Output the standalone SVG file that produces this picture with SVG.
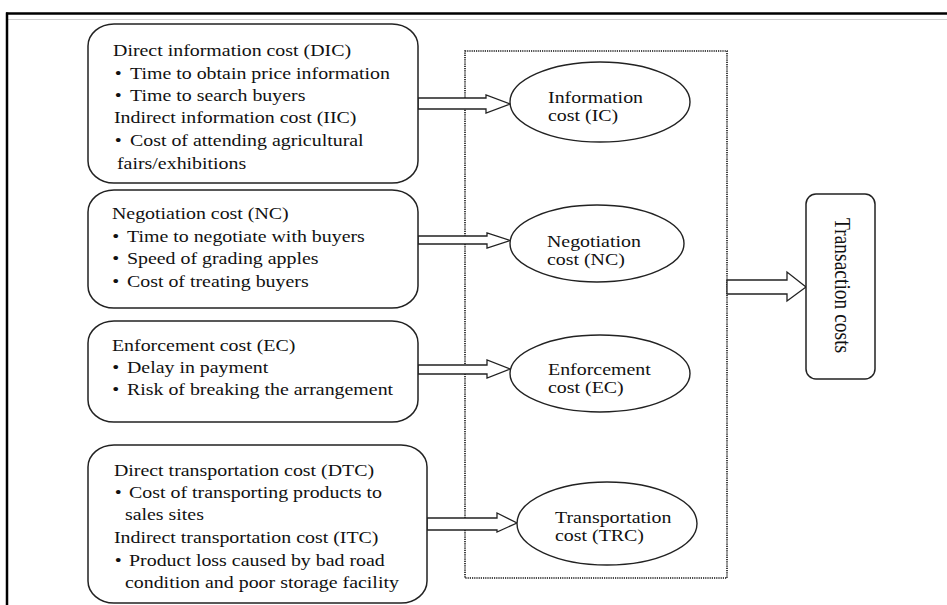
<svg xmlns="http://www.w3.org/2000/svg" width="947" height="605" viewBox="0 0 947 605">
<style>
.box{fill:#fff;stroke:#222;stroke-width:1.5}
.ell{fill:#fff;stroke:#222;stroke-width:1.4}
.arr{fill:#fff;stroke:#222;stroke-width:1.3;stroke-linejoin:miter}
.t{font-family:"Liberation Serif","Times New Roman",serif;font-size:17px;fill:#111}
</style>
<rect width="947" height="605" fill="#fff"/>
<g id="frame">
<line x1="6" y1="13.5" x2="947" y2="13.5" stroke="#000" stroke-width="2.5"/>
<line x1="8" y1="19.5" x2="947" y2="19.5" stroke="#d0d0d0" stroke-width="1.2"/>
<line x1="7" y1="12.5" x2="7" y2="605" stroke="#000" stroke-width="2.5"/>
</g>
<g id="group-box">
<rect x="465" y="51" width="262" height="527" fill="none" stroke="#111" stroke-width="1.6" stroke-dasharray="1.2 1"/>
</g>
<g id="connectors">
<polygon class="arr" points="418,98 486,98 486,95 510,104 486,113 486,109 418,109"/>
<polygon class="arr" points="418,236 487,236 487,233 510,240.5 487,248 487,244 418,244"/>
<polygon class="arr" points="418,365 487,365 487,360 510,369 487,378 487,374 418,374"/>
<polygon class="arr" points="427,518 497,518 497,513 517,523 497,532 497,530 427,530"/>
<polygon class="arr" points="727,280 787,280 787,272 806,287 787,301 787,294 727,294"/>
</g>
<g id="box-information">
<rect class="box" x="88" y="24" width="330" height="159" rx="26" ry="22"/>
<g transform="scale(1.17 1)" class="t">
<text x="96.6" y="56">Direct information cost (DIC)</text>
<text y="79"><tspan x="98">•</tspan><tspan x="111.1">Time to obtain price information</tspan></text>
<text y="101"><tspan x="98">•</tspan><tspan x="111.1">Time to search buyers</tspan></text>
<text x="97.4" y="123">Indirect information cost (IIC)</text>
<text y="146"><tspan x="98">•</tspan><tspan x="111.1">Cost of attending agricultural</tspan></text>
<text x="100" y="169">fairs/exhibitions</text>
</g>
</g>
<g id="box-negotiation">
<rect class="box" x="88" y="190" width="330" height="118" rx="26" ry="22"/>
<g transform="scale(1.17 1)" class="t">
<text x="95.7" y="219">Negotiation cost (NC)</text>
<text y="242"><tspan x="96">•</tspan><tspan x="108.5">Time to negotiate with buyers</tspan></text>
<text y="264"><tspan x="96">•</tspan><tspan x="108.5">Speed of grading apples</tspan></text>
<text y="287"><tspan x="96">•</tspan><tspan x="108.5">Cost of treating buyers</tspan></text>
</g>
</g>
<g id="box-enforcement">
<rect class="box" x="88" y="321" width="330" height="101" rx="26" ry="22"/>
<g transform="scale(1.17 1)" class="t">
<text x="95.7" y="351">Enforcement cost (EC)</text>
<text y="373"><tspan x="96">•</tspan><tspan x="108.5">Delay in payment</tspan></text>
<text y="395"><tspan x="96">•</tspan><tspan x="108.5">Risk of breaking the arrangement</tspan></text>
</g>
</g>
<g id="box-transportation">
<rect class="box" x="88" y="445" width="339" height="158" rx="26" ry="22"/>
<g transform="scale(1.17 1)" class="t">
<text x="97.4" y="476">Direct transportation cost (DTC)</text>
<text y="498"><tspan x="98">•</tspan><tspan x="110.3">Cost of transporting products to</tspan></text>
<text x="106.8" y="520">sales sites</text>
<text x="97.4" y="543">Indirect transportation cost (ITC)</text>
<text y="566"><tspan x="98">•</tspan><tspan x="110.3">Product loss caused by bad road</tspan></text>
<text x="106.8" y="588">condition and poor storage facility</text>
</g>
</g>
<g id="ic">
<ellipse class="ell" cx="600" cy="102" rx="90" ry="40"/>
<g transform="scale(1.17 1)" class="t">
<text x="468.4" y="103">Information</text>
<text x="468.4" y="121">cost (IC)</text>
</g>
</g>
<g id="nc">
<ellipse class="ell" cx="597" cy="243.5" rx="87" ry="38.5"/>
<g transform="scale(1.17 1)" class="t">
<text x="467.5" y="247">Negotiation</text>
<text x="467.5" y="265">cost (NC)</text>
</g>
</g>
<g id="ec">
<ellipse class="ell" cx="600" cy="373.5" rx="90" ry="38.5"/>
<g transform="scale(1.17 1)" class="t">
<text x="468.4" y="375">Enforcement</text>
<text x="468.4" y="393">cost (EC)</text>
</g>
</g>
<g id="trc">
<ellipse class="ell" cx="607" cy="523.5" rx="90" ry="41.5"/>
<g transform="scale(1.17 1)" class="t">
<text x="474.4" y="523">Transportation</text>
<text x="474.4" y="541">cost (TRC)</text>
</g>
</g>
<g id="transaction-costs">
<rect class="box" x="806" y="194" width="69" height="185" rx="10" ry="10"/>
<text class="t" transform="translate(835,218) scale(1.17 1) rotate(90)" x="0" y="0" style="font-size:19.5px">Transaction costs</text>
</g>
</svg>
